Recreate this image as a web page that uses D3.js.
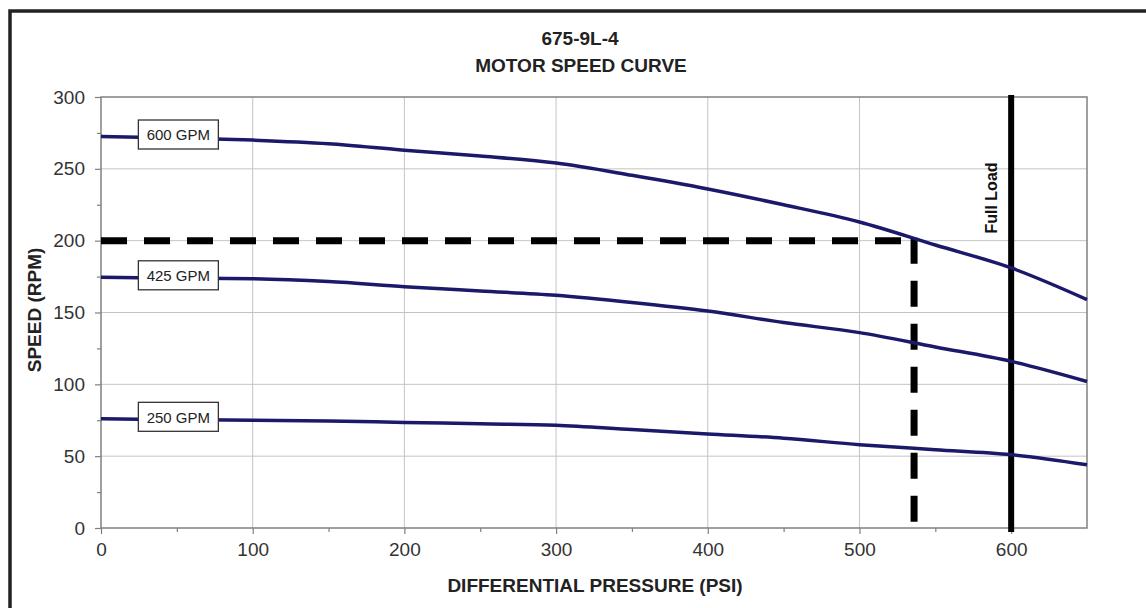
<!DOCTYPE html>
<html>
<head>
<meta charset="utf-8">
<script src="https://cdn.jsdelivr.net/npm/d3@7"></script>
<style>
  body { margin: 0; background: #fff; }
  svg { display: block; font-family: "Liberation Sans", Arial, sans-serif; }
</style>
</head>
<body>
<svg id="chart" width="1146" height="608"></svg>
<script>
// pressure (psi) sampled along each curve
const pressure = [0, 50, 100, 150, 200, 250, 300, 350, 400, 450, 500, 550, 600, 650];
const gpm600 = [272.5, 271.5, 270, 267.5, 263, 259, 254, 245.5, 236, 225, 213, 197, 181, 159];
const gpm425 = [174.5, 174, 173.5, 171.5, 168, 165, 162, 157, 151, 143, 136, 126, 116, 102];
const gpm250 = [76, 75.5, 75, 74.5, 73.5, 72.5, 71.5, 68.5, 65.5, 62.5, 58, 54.5, 51, 44];
const curveLabels = ['600 GPM', '425 GPM', '250 GPM'];

const xTicks = [0, 100, 200, 300, 400, 500, 600];
const yTicks = [0, 50, 100, 150, 200, 250, 300];
const operatingPoint = { pressure: 536, speed: 200 };
const fullLoad = 600;

const margin = { left: 101, top: 97, right: 1087, bottom: 528 };
const svg = d3.select('#chart');

// outer frame
svg.append('rect')
  .attr('x', 10).attr('y', 11)
  .attr('width', 1200).attr('height', 700)
  .attr('fill', 'none')
  .attr('stroke', '#222')
  .attr('stroke-width', 3.5);

const x = d3.scaleLinear().domain([0, 650]).range([margin.left, margin.right]);
const y = d3.scaleLinear().domain([0, 300]).range([margin.bottom, margin.top]);

// grid
const grid = svg.append('g').attr('stroke', '#c4c4c4').attr('stroke-width', 1);
grid.selectAll('.vg').data(xTicks.filter(d => d > 0)).join('line')
  .attr('x1', d => x(d)).attr('x2', d => x(d))
  .attr('y1', margin.top).attr('y2', margin.bottom);
grid.selectAll('.hg').data(yTicks.filter(d => d > 0 && d < 300)).join('line')
  .attr('x1', margin.left).attr('x2', margin.right)
  .attr('y1', d => y(d)).attr('y2', d => y(d));

// plot border
svg.append('rect')
  .attr('x', margin.left).attr('y', margin.top)
  .attr('width', margin.right - margin.left)
  .attr('height', margin.bottom - margin.top)
  .attr('fill', 'none')
  .attr('stroke', '#808080')
  .attr('stroke-width', 1.5);

// axes
const styleAxis = (g) => {
  g.select('.domain').remove();
  g.selectAll('line').attr('stroke', '#808080').attr('stroke-width', 1.2);
  g.selectAll('text').attr('fill', '#333').attr('font-size', 19);
};

svg.append('g')
  .attr('transform', `translate(0,${margin.bottom})`)
  .call(d3.axisBottom(x).tickValues(d3.range(50, 650, 100)).tickSize(4).tickFormat(''))
  .call(styleAxis);
svg.append('g')
  .attr('transform', `translate(0,${margin.bottom})`)
  .call(d3.axisBottom(x).tickValues(xTicks).tickSize(6).tickPadding(9))
  .call(styleAxis);

svg.append('g')
  .attr('transform', `translate(${margin.left},0)`)
  .call(d3.axisLeft(y).tickValues(d3.range(25, 300, 50)).tickSize(4).tickFormat(''))
  .call(styleAxis);
svg.append('g')
  .attr('transform', `translate(${margin.left},0)`)
  .call(d3.axisLeft(y).tickValues(yTicks).tickSize(6).tickPadding(10))
  .call(styleAxis);

// operating point dashed lines
const dash = svg.append('g')
  .attr('stroke', '#000')
  .attr('stroke-width', 7)
  .attr('stroke-dasharray', '26 17');
dash.append('line')
  .attr('x1', x(0)).attr('x2', x(operatingPoint.pressure))
  .attr('y1', y(operatingPoint.speed)).attr('y2', y(operatingPoint.speed));
dash.append('line')
  .attr('x1', x(operatingPoint.pressure)).attr('x2', x(operatingPoint.pressure))
  .attr('y1', y(operatingPoint.speed) - 3).attr('y2', y(0));

// full load line
svg.append('line')
  .attr('x1', x(fullLoad)).attr('x2', x(fullLoad))
  .attr('y1', margin.top - 2).attr('y2', margin.bottom + 4)
  .attr('stroke', '#000')
  .attr('stroke-width', 6);

svg.append('text')
  .attr('transform', `translate(${x(fullLoad) - 14},198) rotate(-90)`)
  .attr('text-anchor', 'middle')
  .attr('font-size', 16)
  .attr('font-weight', 'bold')
  .attr('fill', '#111')
  .text('Full Load');

// speed curves
const series = [gpm600, gpm425, gpm250];
const line = d3.line()
  .x((d, i) => x(pressure[i]))
  .y(d => y(d))
  .curve(d3.curveMonotoneX);

svg.append('g').selectAll('path').data(series).join('path')
  .attr('d', line)
  .attr('fill', 'none')
  .attr('stroke', '#1b1a6a')
  .attr('stroke-width', 3.5);

// curve labels
const labelAt = 51;
const boxes = svg.append('g').selectAll('g').data(series).join('g')
  .attr('transform', d => `translate(${x(labelAt)},${y(d[0]) - 1.5})`);
boxes.append('rect')
  .attr('x', -40).attr('y', -15)
  .attr('width', 80).attr('height', 29)
  .attr('fill', '#fff')
  .attr('stroke', '#333')
  .attr('stroke-width', 1.3);
boxes.append('text')
  .attr('text-anchor', 'middle')
  .attr('dy', '0.35em')
  .attr('font-size', 15)
  .attr('fill', '#222')
  .text((d, i) => curveLabels[i]);

// titles
const title = svg.append('g')
  .attr('font-weight', 'bold')
  .attr('font-size', 19)
  .attr('fill', '#222')
  .attr('text-anchor', 'middle');
title.append('text').attr('x', 580).attr('y', 45).text('675-9L-4');
title.append('text').attr('x', 581).attr('y', 72).text('MOTOR SPEED CURVE');

svg.append('text')
  .attr('x', 595).attr('y', 592)
  .attr('text-anchor', 'middle')
  .attr('font-size', 19)
  .attr('font-weight', 'bold')
  .attr('fill', '#222')
  .text('DIFFERENTIAL PRESSURE (PSI)');

svg.append('text')
  .attr('transform', 'translate(41,310) rotate(-90)')
  .attr('text-anchor', 'middle')
  .attr('font-size', 19)
  .attr('font-weight', 'bold')
  .attr('fill', '#222')
  .text('SPEED (RPM)');
</script>
</body>
</html>
